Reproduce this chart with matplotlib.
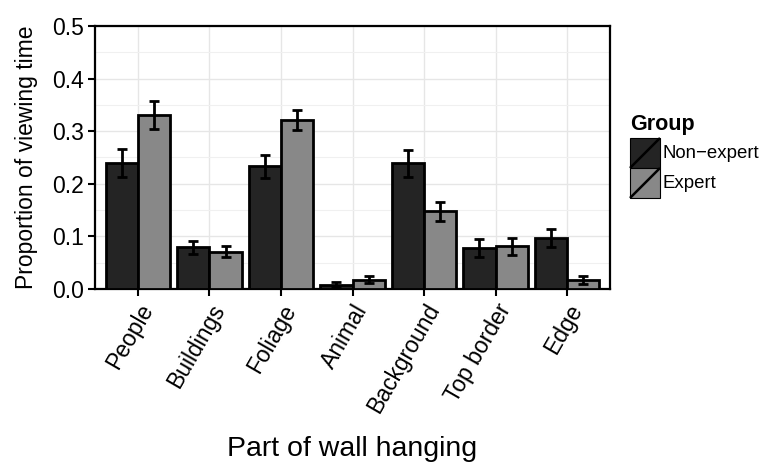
import matplotlib
matplotlib.use("Agg")
import matplotlib.pyplot as plt
import numpy as np
from matplotlib.patches import Rectangle

plt.rcParams['font.family'] = ['Liberation Sans', 'DejaVu Sans']

categories = ["People", "Buildings", "Foliage", "Animal", "Background", "Top border", "Edge"]
groups = ["Non\u2212expert", "Expert"]
nonexpert = [0.240, 0.079, 0.233, 0.008, 0.239, 0.078, 0.097]
nonexpert_se = [0.027, 0.013, 0.022, 0.005, 0.026, 0.018, 0.018]
expert = [0.331, 0.071, 0.321, 0.018, 0.148, 0.081, 0.017]
expert_se = [0.026, 0.010, 0.019, 0.006, 0.018, 0.016, 0.008]
colors = ["#242424", "#888888"]

W, H = 762, 466
fig = plt.figure(figsize=(W / 100, H / 100), dpi=100)
ax = fig.add_axes([95 / W, 1 - 289 / H, 515 / W, 263 / H])

x = np.arange(len(categories))
w = 0.45
for vals, se, off, c in [(nonexpert, nonexpert_se, -w / 2, colors[0]),
                         (expert, expert_se, w / 2, colors[1])]:
    ax.bar(x + off, vals, width=w, color=c, edgecolor="black", linewidth=2.0, zorder=3)
    ax.errorbar(x + off, vals, yerr=se, fmt="none", ecolor="black",
                elinewidth=2.0, capsize=3.4, capthick=2.0, zorder=4)

ax.set_xlim(-0.6, 6.6)
ax.set_ylim(0, 0.5)
ax.set_yticks(np.arange(0, 0.51, 0.1))
ax.set_yticklabels([f"{v:.1f}" for v in np.arange(0, 0.51, 0.1)])
ax.set_yticks(np.arange(0.05, 0.5, 0.1), minor=True)
ax.set_xticks(x)
ax.set_xticklabels(categories, rotation=60, ha="right", va="top",
                   rotation_mode="anchor", fontsize=16.5)
ax.tick_params(axis="y", labelsize=16.5, length=5, width=1.5, colors="black", pad=3)
ax.tick_params(axis="x", length=5, width=1.5, colors="black", pad=3)
ax.tick_params(axis="y", which="minor", length=0)

ax.grid(True, which="major", color="#e6e6e6", linewidth=1.0, zorder=0)
ax.grid(True, which="minor", axis="y", color="#f0f0f0", linewidth=0.8, zorder=0)
for s in ax.spines.values():
    s.set_linewidth(1.6)
    s.set_color("black")

ax.set_ylabel("Proportion of viewing time", fontsize=16.5, labelpad=10)
ax.set_xlabel("Part of wall hanging", fontsize=20.5, labelpad=13)

# Legend drawn on a full-figure overlay in pixel units
lg = fig.add_axes([0, 0, 1, 1], zorder=5)
lg.set_xlim(0, W)
lg.set_ylim(H, 0)
lg.axis("off")
lg.text(630, 130, "Group", fontsize=15.5, fontweight="bold", ha="left", va="baseline")
key_x, key_w, key_h, key_top = 630, 30, 30, 138
for i, (label, c) in enumerate(zip(groups, colors)):
    top = key_top + i * key_h
    lg.add_patch(Rectangle((key_x, top), key_w, key_h, facecolor=c,
                           edgecolor="black", linewidth=0.8))
    lg.plot([key_x, key_x + key_w], [top + key_h, top], color="black",
            linewidth=1.8, solid_capstyle="butt")
    lg.text(key_x + key_w + 3, top + key_h / 2, label, fontsize=13.4,
            ha="left", va="center")

fig.savefig("out.png", dpi=100)
